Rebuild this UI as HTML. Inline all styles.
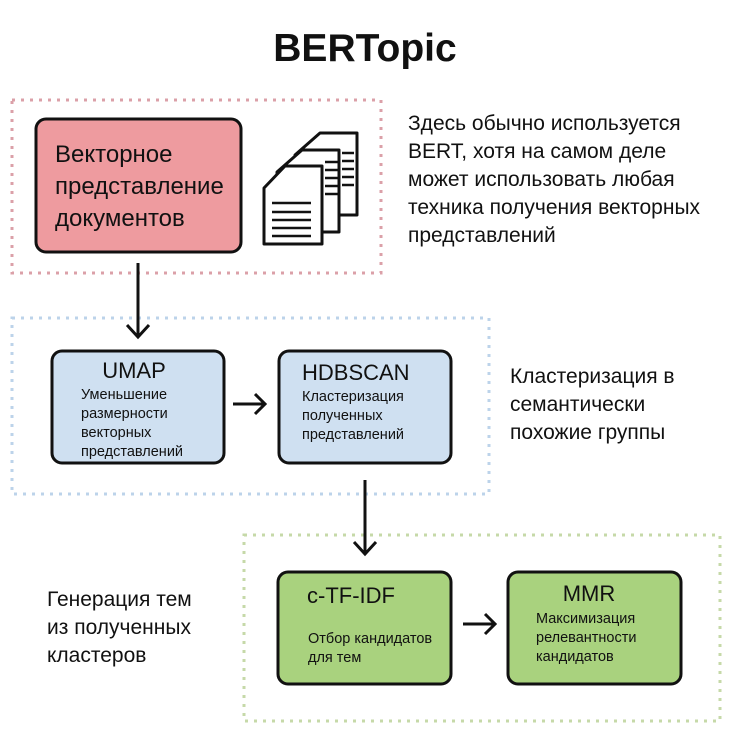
<!DOCTYPE html>
<html><head><meta charset="utf-8"><style>
body{margin:0;background:#fff;}
svg text{font-family:"Liberation Sans","DejaVu Sans",sans-serif;fill:#111;}
</style></head><body>
<svg width="741" height="743" viewBox="0 0 741 743" xmlns="http://www.w3.org/2000/svg">
<text x="365" y="61" font-size="39" font-weight="bold" text-anchor="middle">BERTopic</text>
<!-- dotted frames -->
<rect x="12" y="100" width="369" height="173" fill="none" stroke="#dba0a8" stroke-width="3" stroke-dasharray="3 6"/>
<rect x="12" y="318" width="477" height="176" fill="none" stroke="#bcd3ea" stroke-width="3" stroke-dasharray="3 6"/>
<rect x="244" y="535" width="476" height="186" fill="none" stroke="#c6d9a8" stroke-width="3" stroke-dasharray="3 6"/>
<!-- red node -->
<rect x="36" y="119" width="205" height="133" rx="10" fill="#ee9b9f" stroke="#111" stroke-width="3"/>
<text x="55" y="162" font-size="24">Векторное</text>
<text x="55" y="194" font-size="24">представление</text>
<text x="55" y="226" font-size="24">документов</text>
<!-- docs icon -->
<g stroke="#111" stroke-width="3" fill="#fff" stroke-linejoin="round">
<path d="M320 133 h37 v82 h-62 v-60 z"/>
<path d="M302 150 h37 v82 h-62 v-60 z"/>
<path d="M285 166 h37 v78 h-58 v-56 z"/>
</g>
<g stroke="#111" stroke-width="2.5">
<line x1="272" y1="203" x2="311" y2="203"/><line x1="272" y1="212" x2="311" y2="212"/><line x1="272" y1="220" x2="311" y2="220"/><line x1="272" y1="228" x2="311" y2="228"/><line x1="272" y1="236" x2="311" y2="236"/>
<line x1="325" y1="162" x2="339" y2="162"/><line x1="325" y1="170" x2="339" y2="170"/><line x1="325" y1="178" x2="339" y2="178"/><line x1="325" y1="186" x2="339" y2="186"/><line x1="325" y1="194" x2="339" y2="194"/>
<line x1="342" y1="153" x2="354" y2="153"/><line x1="342" y1="161" x2="354" y2="161"/><line x1="342" y1="169" x2="354" y2="169"/><line x1="342" y1="177" x2="354" y2="177"/><line x1="342" y1="185" x2="354" y2="185"/>
</g>
<text font-size="21"><tspan x="408" y="130">Здесь обычно используется</tspan><tspan x="408" y="158">BERT, хотя на самом деле</tspan><tspan x="408" y="186">может использовать любая</tspan><tspan x="408" y="214">техника получения векторных</tspan><tspan x="408" y="242">представлений</tspan></text>
<!-- arrows -->
<g stroke="#111" stroke-width="3" fill="none">
<path d="M138 263 V337 M127 325 L138 337 L149 325"/>
<path d="M233 404 H265 M255 394 L265 404 L255 414"/>
<path d="M365 480 V554 M354 542 L365 554 L376 542"/>
<path d="M463 624 H495 M485 614 L495 624 L485 634"/>
</g>
<!-- blue nodes -->
<rect x="52" y="351" width="172" height="112" rx="10" fill="#cfe0f1" stroke="#111" stroke-width="3"/>
<text x="134" y="378" font-size="22" text-anchor="middle">UMAP</text>
<text font-size="14.5"><tspan x="81" y="399">Уменьшение</tspan><tspan x="81" y="418">размерности</tspan><tspan x="81" y="437">векторных</tspan><tspan x="81" y="456">представлений</tspan></text>
<rect x="279" y="351" width="172" height="112" rx="10" fill="#cfe0f1" stroke="#111" stroke-width="3"/>
<text x="302" y="380" font-size="22">HDBSCAN</text>
<text font-size="14.5"><tspan x="302" y="401">Кластеризация</tspan><tspan x="302" y="420">полученных</tspan><tspan x="302" y="439">представлений</tspan></text>
<text font-size="21"><tspan x="510" y="383">Кластеризация в</tspan><tspan x="510" y="411">семантически</tspan><tspan x="510" y="439">похожие группы</tspan></text>
<!-- green nodes -->
<rect x="278" y="572" width="173" height="112" rx="10" fill="#a9d27e" stroke="#111" stroke-width="3"/>
<text x="307" y="603" font-size="22">c-TF-IDF</text>
<text font-size="14.5"><tspan x="308" y="643">Отбор кандидатов</tspan><tspan x="308" y="662">для тем</tspan></text>
<rect x="508" y="572" width="173" height="112" rx="10" fill="#a9d27e" stroke="#111" stroke-width="3"/>
<text x="589" y="601" font-size="22" text-anchor="middle">MMR</text>
<text font-size="14.5"><tspan x="536" y="623">Максимизация</tspan><tspan x="536" y="642">релевантности</tspan><tspan x="536" y="661">кандидатов</tspan></text>
<text font-size="21"><tspan x="47" y="606">Генерация тем</tspan><tspan x="47" y="634">из полученных</tspan><tspan x="47" y="662">кластеров</tspan></text>
</svg>
</body></html>
